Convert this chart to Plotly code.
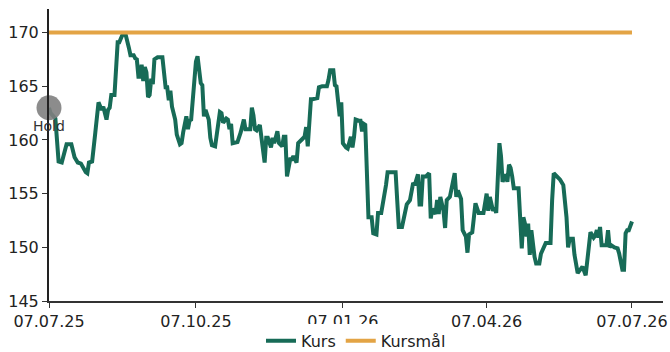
import plotly.graph_objects as go

# Daily closing price (Kurs)
dates = [
    "2025-07-07", "2025-07-08", "2025-07-11", "2025-07-13", "2025-07-15", "2025-07-16",
    "2025-07-18", "2025-07-21", "2025-07-23", "2025-07-25", "2025-07-27", "2025-07-30",
    "2025-07-31", "2025-08-01", "2025-08-03", "2025-08-05", "2025-08-07", "2025-08-09",
    "2025-08-10", "2025-08-12", "2025-08-13", "2025-08-14", "2025-08-15", "2025-08-17",
    "2025-08-18", "2025-08-19", "2025-08-20", "2025-08-22", "2025-08-24", "2025-08-25",
    "2025-08-26", "2025-08-27", "2025-08-29", "2025-08-30", "2025-08-31", "2025-09-01",
    "2025-09-02", "2025-09-03", "2025-09-04", "2025-09-05", "2025-09-06", "2025-09-07",
    "2025-09-08", "2025-09-09", "2025-09-10", "2025-09-11", "2025-09-13", "2025-09-16",
    "2025-09-17", "2025-09-18", "2025-09-19", "2025-09-20", "2025-09-21", "2025-09-22",
    "2025-09-24", "2025-09-25", "2025-09-27", "2025-09-28", "2025-09-29", "2025-10-01",
    "2025-10-02", "2025-10-03", "2025-10-04", "2025-10-05", "2025-10-06", "2025-10-07",
    "2025-10-08", "2025-10-10", "2025-10-11", "2025-10-12", "2025-10-13", "2025-10-15",
    "2025-10-16", "2025-10-17", "2025-10-19", "2025-10-20", "2025-10-22", "2025-10-23",
    "2025-10-24", "2025-10-26", "2025-10-27", "2025-10-28", "2025-10-29", "2025-10-30",
    "2025-11-02", "2025-11-04", "2025-11-06", "2025-11-07", "2025-11-08", "2025-11-10",
    "2025-11-11", "2025-11-12", "2025-11-13", "2025-11-14", "2025-11-16", "2025-11-17",
    "2025-11-19", "2025-11-20", "2025-11-21", "2025-11-23", "2025-11-24", "2025-11-25",
    "2025-11-27", "2025-11-28", "2025-11-30", "2025-12-01", "2025-12-02", "2025-12-03",
    "2025-12-05", "2025-12-06", "2025-12-07", "2025-12-09", "2025-12-10", "2025-12-12",
    "2025-12-14", "2025-12-15", "2025-12-16", "2025-12-18", "2025-12-19", "2025-12-22",
    "2025-12-23", "2025-12-25", "2025-12-28", "2025-12-29", "2025-12-30", "2026-01-01",
    "2026-01-02", "2026-01-03", "2026-01-04", "2026-01-05", "2026-01-06", "2026-01-07",
    "2026-01-09", "2026-01-10", "2026-01-12", "2026-01-13", "2026-01-14", "2026-01-15",
    "2026-01-17", "2026-01-18", "2026-01-19", "2026-01-20", "2026-01-21", "2026-01-23",
    "2026-01-25", "2026-01-26", "2026-01-28", "2026-01-29", "2026-01-31", "2026-02-02",
    "2026-02-03", "2026-02-04", "2026-02-09", "2026-02-10", "2026-02-11", "2026-02-13",
    "2026-02-14", "2026-02-16", "2026-02-18", "2026-02-20", "2026-02-21", "2026-02-23",
    "2026-02-24", "2026-02-25", "2026-02-26", "2026-02-28", "2026-03-02", "2026-03-03",
    "2026-03-04", "2026-03-06", "2026-03-07", "2026-03-08", "2026-03-09", "2026-03-11",
    "2026-03-12", "2026-03-13", "2026-03-15", "2026-03-17", "2026-03-18", "2026-03-19",
    "2026-03-20", "2026-03-22", "2026-03-23", "2026-03-25", "2026-03-26", "2026-03-27",
    "2026-03-29", "2026-03-31", "2026-04-02", "2026-04-05", "2026-04-06", "2026-04-07",
    "2026-04-08", "2026-04-09", "2026-04-11", "2026-04-12", "2026-04-13", "2026-04-14",
    "2026-04-15", "2026-04-16", "2026-04-17", "2026-04-19", "2026-04-20", "2026-04-21",
    "2026-04-22", "2026-04-23", "2026-04-24", "2026-04-27", "2026-04-28", "2026-04-29",
    "2026-04-30", "2026-05-01", "2026-05-02", "2026-05-03", "2026-05-04", "2026-05-05",
    "2026-05-07", "2026-05-08", "2026-05-10", "2026-05-11", "2026-05-14", "2026-05-17",
    "2026-05-18", "2026-05-19", "2026-05-21", "2026-05-23", "2026-05-25", "2026-05-27",
    "2026-05-28", "2026-05-29", "2026-05-31", "2026-06-01", "2026-06-03", "2026-06-04",
    "2026-06-06", "2026-06-08", "2026-06-09", "2026-06-11", "2026-06-13", "2026-06-14",
    "2026-06-15", "2026-06-16", "2026-06-17", "2026-06-18", "2026-06-21", "2026-06-22",
    "2026-06-23", "2026-06-24", "2026-06-26", "2026-06-28", "2026-06-29", "2026-07-01",
    "2026-07-02", "2026-07-03", "2026-07-04", "2026-07-05", "2026-07-07",
]
kurs = [
    163.0, 162.5, 162.0, 158.0, 157.9, 158.4,
    159.6, 159.6, 158.4, 157.9, 157.8, 157.0,
    156.9, 157.9, 158.0, 160.7, 163.5, 162.8,
    163.1, 161.9, 162.8, 163.0, 164.2, 164.2,
    166.8, 169.1, 169.1, 169.8, 169.8, 169.3,
    168.6, 167.9, 167.9, 167.6, 167.5, 165.9,
    165.9, 167.0, 165.5, 166.8, 166.3, 164.0,
    164.2, 165.7, 165.2, 167.5, 167.7, 167.7,
    165.9, 164.9, 164.9, 163.7, 164.6, 163.1,
    161.9, 160.5, 159.6, 159.7, 160.7, 162.2,
    161.0, 161.8, 161.9, 163.5, 165.6, 167.3,
    167.8, 165.3, 165.1, 162.2, 162.8, 161.9,
    160.2, 159.5, 159.4, 160.4, 162.6, 162.5,
    161.6, 162.0, 161.9, 161.0, 161.5, 159.7,
    159.8, 160.7, 161.9, 161.0, 161.0, 161.0,
    163.0, 162.3, 161.0, 160.9, 161.4, 160.0,
    157.9, 160.2, 160.2, 159.3, 160.2, 159.7,
    160.8, 159.7, 159.4, 160.3, 160.3, 156.6,
    158.2, 158.2, 158.5, 157.9, 159.7, 160.0,
    160.3, 161.2, 159.4, 163.8, 163.8, 163.9,
    164.9, 165.0, 165.0, 165.6, 166.5, 166.5,
    165.1, 165.0, 163.5, 162.2, 163.5, 159.7,
    159.3, 159.2, 160.3, 159.3, 160.3, 161.9,
    161.8, 161.8, 160.8, 161.5, 161.4, 152.8,
    152.8, 151.3, 151.2, 153.2, 153.2, 154.7,
    155.8, 157.0, 157.0, 154.4, 151.9, 151.9,
    152.6, 154.0, 154.4, 156.0, 155.8, 156.8,
    154.0, 154.0, 156.6, 156.6, 156.9, 152.7,
    153.6, 153.1, 154.4, 153.1, 154.7, 153.4,
    151.8, 154.4, 154.7, 156.1, 156.9, 154.7,
    155.3, 154.5, 151.6, 151.0, 149.5, 151.2,
    151.4, 154.1, 153.2, 153.2, 154.4, 155.0,
    153.4, 154.7, 153.4, 153.7, 153.2, 157.2,
    159.7, 158.5, 156.1, 156.8, 156.1, 157.7,
    157.4, 156.6, 155.5, 155.5, 152.6, 149.9,
    152.8, 152.2, 151.0, 152.2, 149.3, 151.6,
    149.1, 148.5, 148.5, 149.4, 150.4, 150.4,
    154.4, 156.9, 156.6, 156.3, 155.8, 152.8,
    150.0, 150.8, 150.8, 149.3, 147.6, 147.8,
    148.2, 147.4, 148.8, 151.4, 150.9, 151.1,
    151.6, 150.9, 151.9, 150.2, 150.2, 151.6,
    150.0, 150.2, 150.0, 149.9, 149.4, 147.9,
    147.9, 151.3, 151.6, 151.6, 152.4,
]

# Price target (Kursmål) over the period
target_dates = ["2025-07-07", "2026-07-07"]
kursmaal = [170, 170]

# Recommendation marker
rec_date = ["2025-07-07"]
rec_price = [163.0]
rec_label = ["Hold"]

# Axis ticks
x_ticks = ["2025-07-07", "2025-10-07", "2026-01-07", "2026-04-07", "2026-07-07"]
x_ticklabels = ["07.07.25", "07.10.25", "07.01.26", "07.04.26", "07.07.26"]
y_ticks = [145, 150, 155, 160, 165, 170]

GREEN = "#176b57"
ORANGE = "#e3a445"
FONT = "DejaVu Sans"

fig = go.Figure()
fig.add_trace(go.Scatter(
    x=dates, y=kurs, mode="lines", name="Kurs",
    line=dict(color=GREEN, width=4),
))
fig.add_trace(go.Scatter(
    x=target_dates, y=kursmaal, mode="lines", name="Kursmål",
    line=dict(color=ORANGE, width=4),
))
fig.add_trace(go.Scatter(
    x=rec_date, y=rec_price, mode="markers", showlegend=False, cliponaxis=False,
    marker=dict(size=25, color="rgba(128,128,128,0.9)"),
))
# Recommendation label just under the marker
fig.add_annotation(
    x=rec_date[0], y=rec_price[0], text=rec_label[0], showarrow=False,
    yshift=-18, xanchor="center", yanchor="middle",
    font=dict(family=FONT, size=14, color="#333333"),
)

fig.update_layout(
    width=670, height=352,
    margin=dict(l=49, r=7, t=9, b=51, autoexpand=False),
    paper_bgcolor="white", plot_bgcolor="white",
    font=dict(family=FONT, size=16, color="#222222"),
    showlegend=True,
    legend=dict(orientation="h", x=0.5, xanchor="center",
                yref="container", y=0.032, yanchor="middle",
                font=dict(family=FONT, size=16, color="#222222")),
)
fig.update_xaxes(
    type="date", range=["2025-07-07", "2026-07-26 10:00"],
    tickvals=x_ticks, ticktext=x_ticklabels,
    showgrid=False, zeroline=False,
    showline=True, linecolor="#333333", linewidth=1.5,
    ticks="outside", ticklen=5, tickcolor="#333333",
    tickfont=dict(family=FONT, size=16, color="#222222"),
)
fig.update_yaxes(
    range=[145, 172.2], tickvals=y_ticks,
    showgrid=False, zeroline=False,
    showline=True, linecolor="#222222", linewidth=2,
    ticks="outside", ticklen=5, tickcolor="#333333",
    tickfont=dict(family=FONT, size=16, color="#222222"),
)

fig.write_html("out.html")
